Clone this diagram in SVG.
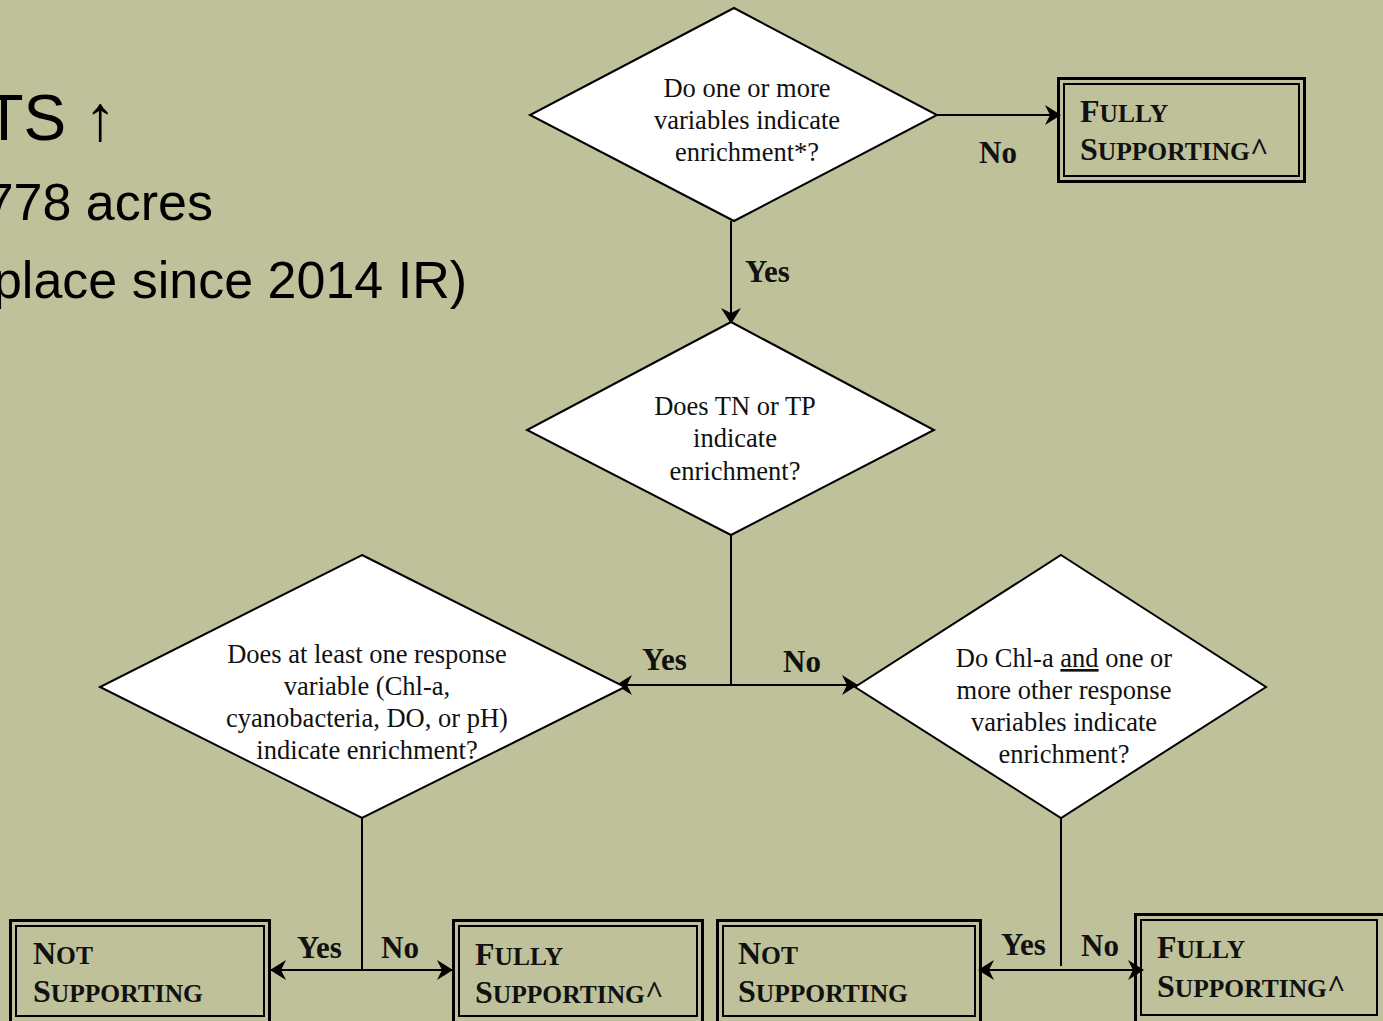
<svg xmlns="http://www.w3.org/2000/svg" width="1383" height="1021" viewBox="0 0 1383 1021">
<style>
.dia{fill:#fff;stroke:#000;stroke-width:2}
.q{font-family:"Liberation Serif",serif;font-size:26.5px;fill:#111;text-anchor:middle}
.lbl{font-family:"Liberation Serif",serif;font-size:31px;font-weight:bold;fill:#111}
.ob{fill:none;stroke:#000;stroke-width:3}
.ib{fill:none;stroke:#000;stroke-width:2}
.bt{font-family:"Liberation Serif",serif;font-weight:bold;font-size:32px;fill:#111}
.sc{font-size:25.5px}
.con{fill:none;stroke:#000;stroke-width:2}
.side{font-family:"Liberation Sans",Arial,sans-serif;fill:#000;text-anchor:end}
</style>
<defs>
<marker id="ah" viewBox="0 0 16 20" refX="15" refY="10" markerWidth="16" markerHeight="20" markerUnits="userSpaceOnUse" orient="auto-start-reverse">
<path d="M0,0 L16,10 L0,20 L5,10 z" fill="#000"/>
</marker>
</defs>
<rect width="1383" height="1021" fill="#BEC199"/>

<g id="side-text">
<text class="side" x="116" y="140" font-size="64">TS ↑</text>
<text class="side" x="213" y="220" font-size="52">778 acres</text>
<text class="side" x="467" y="298" font-size="52">place since 2014 IR)</text>
</g>

<g id="connectors">
<line class="con" x1="937" y1="115" x2="1060" y2="115" marker-end="url(#ah)"/>
<line class="con" x1="731" y1="221" x2="731" y2="323" marker-end="url(#ah)"/>
<line class="con" x1="731" y1="535" x2="731" y2="685"/>
<line class="con" x1="617" y1="685" x2="857" y2="685" marker-start="url(#ah)" marker-end="url(#ah)"/>
<line class="con" x1="362" y1="818" x2="362" y2="970"/>
<line class="con" x1="271" y1="970" x2="452" y2="970" marker-start="url(#ah)" marker-end="url(#ah)"/>
<line class="con" x1="1061" y1="818" x2="1061" y2="966"/>
<line class="con" x1="979" y1="970" x2="1143" y2="970" marker-start="url(#ah)" marker-end="url(#ah)"/>
<text class="lbl" x="979" y="163">No</text>
<text class="lbl" x="745" y="282">Yes</text>
<text class="lbl" x="642" y="670">Yes</text>
<text class="lbl" x="783" y="672">No</text>
<text class="lbl" x="297" y="958">Yes</text>
<text class="lbl" x="381" y="958">No</text>
<text class="lbl" x="1001" y="955">Yes</text>
<text class="lbl" x="1081" y="956">No</text>
</g>

<g id="d1">
<polygon class="dia" points="734,8 937,115 734,221 530,115"/>
<text class="q" x="747" y="97">Do one or more</text>
<text class="q" x="747" y="129">variables indicate</text>
<text class="q" x="747" y="161">enrichment*?</text>
</g>

<g id="d2">
<polygon class="dia" points="731,322 934,430 731,535 527,430"/>
<text class="q" x="735" y="415">Does TN or TP</text>
<text class="q" x="735" y="447">indicate</text>
<text class="q" x="735" y="480">enrichment?</text>
</g>

<g id="d3">
<polygon class="dia" points="362,555 625,687 362,818 100,687"/>
<text class="q" x="367" y="663">Does at least one response</text>
<text class="q" x="367" y="695">variable (Chl-a,</text>
<text class="q" x="367" y="727">cyanobacteria, DO, or pH)</text>
<text class="q" x="367" y="759">indicate enrichment?</text>
</g>

<g id="d4">
<polygon class="dia" points="1061,555 1266,687 1061,818 855,687"/>
<text class="q" x="1064" y="667">Do Chl-a <tspan text-decoration="underline">and</tspan> one or</text>
<text class="q" x="1064" y="699">more other response</text>
<text class="q" x="1064" y="731">variables indicate</text>
<text class="q" x="1064" y="763">enrichment?</text>
</g>

<g id="b1">
<rect class="ob" x="1058.5" y="78.5" width="246" height="103"/>
<rect class="ib" x="1064" y="84" width="235" height="92"/>
<text class="bt" x="1080" y="122">F<tspan class="sc">ULLY</tspan></text>
<text class="bt" x="1080" y="160">S<tspan class="sc">UPPORTING</tspan>^</text>
</g>

<g id="b2">
<rect class="ob" x="10.5" y="920.5" width="259" height="104"/>
<rect class="ib" x="16" y="926" width="248" height="90"/>
<text class="bt" x="33" y="964">N<tspan class="sc">OT</tspan></text>
<text class="bt" x="33" y="1002">S<tspan class="sc">UPPORTING</tspan></text>
</g>

<g id="b3">
<rect class="ob" x="453.5" y="920.5" width="249" height="104"/>
<rect class="ib" x="459" y="926" width="238" height="90"/>
<text class="bt" x="475" y="965">F<tspan class="sc">ULLY</tspan></text>
<text class="bt" x="475" y="1003">S<tspan class="sc">UPPORTING</tspan>^</text>
</g>

<g id="b4">
<rect class="ob" x="717.5" y="920.5" width="263" height="104"/>
<rect class="ib" x="723" y="926" width="252" height="90"/>
<text class="bt" x="738" y="964">N<tspan class="sc">OT</tspan></text>
<text class="bt" x="738" y="1002">S<tspan class="sc">UPPORTING</tspan></text>
</g>

<g id="b5">
<rect class="ob" x="1135.5" y="914.5" width="250" height="110"/>
<rect class="ib" x="1141" y="920" width="236" height="95"/>
<text class="bt" x="1157" y="958">F<tspan class="sc">ULLY</tspan></text>
<text class="bt" x="1157" y="997">S<tspan class="sc">UPPORTING</tspan>^</text>
</g>
</svg>
